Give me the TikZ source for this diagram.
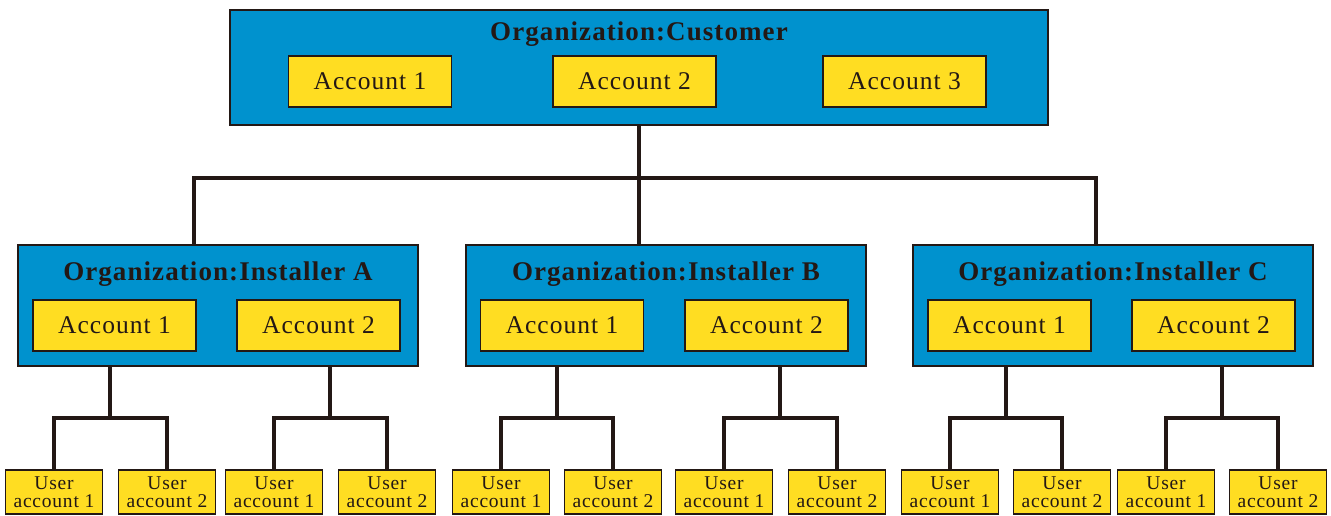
\documentclass[tikz,border=0pt]{standalone}
\usepackage{fontspec}
\setmainfont{Liberation Serif}
\newfontfamily\orgfont[LetterSpace=4]{Liberation Serif}
\usepackage{xcolor}
\usepackage{tikz}
\usetikzlibrary{positioning}
\definecolor{orgblue}{RGB}{0,146,206}
\definecolor{accyellow}{RGB}{255,221,34}
\definecolor{linebrown}{RGB}{35,24,21}
\tikzset{
 org/.style={draw=linebrown,fill=orgblue,line width=1.8pt,inner sep=0pt},
 acc/.style={draw=linebrown,fill=accyellow,line width=1.5pt,inner sep=0pt,
   minimum width=163pt,minimum height=51pt,text=linebrown,
   font=\orgfont\fontsize{25.5}{25}\selectfont},
 usr/.style={draw=linebrown,fill=accyellow,line width=1.5pt,inner sep=0pt,
   minimum width=97pt,minimum height=44pt,align=center,text=linebrown,
   font=\orgfont\fontsize{19.5}{18}\selectfont},
 orgtitle/.style={text=linebrown,font=\orgfont\bfseries\fontsize{27}{27}\selectfont},
 link/.style={draw=linebrown,line width=3.6pt}
}

\begin{document}
\begin{tikzpicture}[x=1pt,y=-1pt]
\useasboundingbox (0,0) rectangle (1331,515);
% customer
\node[org,minimum width=818pt,minimum height=115pt] (cust) at (639,67.5) {};
\node[orgtitle] (custT) at (639,34) {Organization:Customer};
\node[acc] (cA1) at (370,81.5) {Account 1};
\node[acc] (cA2) at (634.5,81.5) {Account 2};
\node[acc] (cA3) at (904.5,81.5) {Account 3};
% installers
\node[org,minimum width=400pt,minimum height=121pt] (inA) at (218,305.5) {};
\node[org,minimum width=400pt,minimum height=121pt] (inB) at (666,305.5) {};
\node[org,minimum width=400pt,minimum height=121pt] (inC) at (1113,305.5) {};
\node[orgtitle] (inAT) at (218,274) {Organization:Installer A};
\node[orgtitle] (inBT) at (666,274) {Organization:Installer B};
\node[orgtitle] (inCT) at (1113,274) {Organization:Installer C};
\node[acc] (aA1) at (114.5,325.5) {Account 1};
\node[acc] (aA2) at (318.5,325.5) {Account 2};
\node[acc] (aB1) at (562,325.5) {Account 1};
\node[acc] (aB2) at (766.5,325.5) {Account 2};
\node[acc] (aC1) at (1009.5,325.5) {Account 1};
\node[acc] (aC2) at (1213.5,325.5) {Account 2};
% users
\node[usr] (uA1) at (54,492) {User\\account 1};
\node[usr] (uA2) at (167,492) {User\\account 2};
\node[usr] (uA3) at (274,492) {User\\account 1};
\node[usr] (uA4) at (387,492) {User\\account 2};
\node[usr] (uB1) at (501,492) {User\\account 1};
\node[usr] (uB2) at (613,492) {User\\account 2};
\node[usr] (uB3) at (724,492) {User\\account 1};
\node[usr] (uB4) at (837,492) {User\\account 2};
\node[usr] (uC1) at (950,492) {User\\account 1};
\node[usr] (uC2) at (1062,492) {User\\account 2};
\node[usr] (uC3) at (1166,492) {User\\account 1};
\node[usr] (uC4) at (1278,492) {User\\account 2};
% connectors
\coordinate (jA) at (194,178);
\coordinate (jC) at (1096,178);
\draw[link](cust.south)--(cust.south |- inB.north);
\draw[link](jA |- inA.north)--(jA)--(jC)--(jC |- inC.north);
\coordinate (bA1) at (110,418);
\coordinate (bA2) at (330,418);
\coordinate (bB1) at (557,418);
\coordinate (bB2) at (780,418);
\coordinate (bC1) at (1006,418);
\coordinate (bC2) at (1222,418);
\draw[link](bA1 |- inA.south)--(bA1) (uA1.north)|-(bA1)-|(uA2.north);
\draw[link](bA2 |- inA.south)--(bA2) (uA3.north)|-(bA2)-|(uA4.north);
\draw[link](bB1 |- inB.south)--(bB1) (uB1.north)|-(bB1)-|(uB2.north);
\draw[link](bB2 |- inB.south)--(bB2) (uB3.north)|-(bB2)-|(uB4.north);
\draw[link](bC1 |- inC.south)--(bC1) (uC1.north)|-(bC1)-|(uC2.north);
\draw[link](bC2 |- inC.south)--(bC2) (uC3.north)|-(bC2)-|(uC4.north);
\end{tikzpicture}
\end{document}
